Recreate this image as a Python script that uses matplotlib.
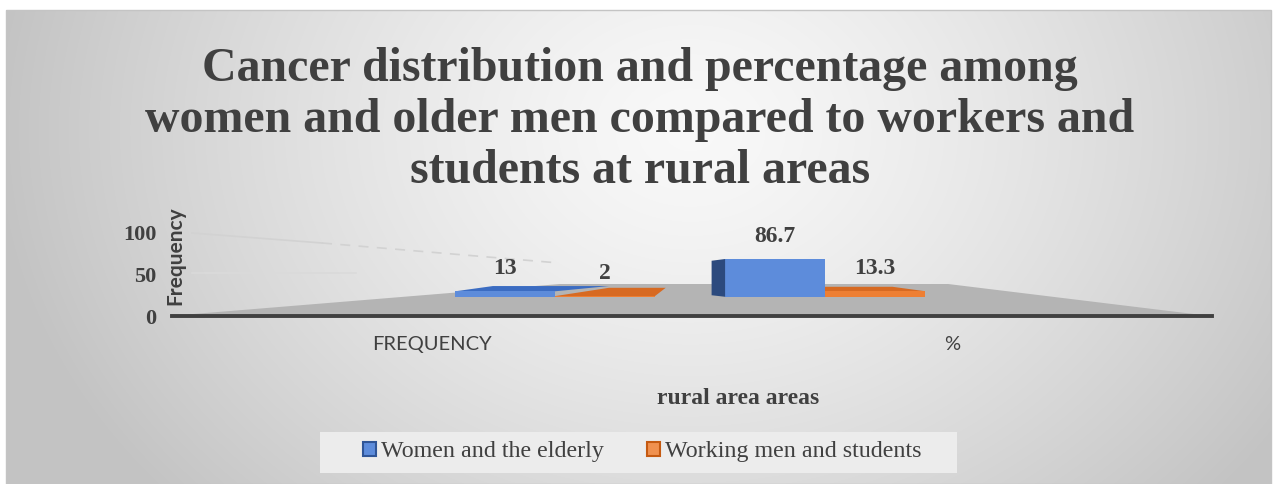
import numpy as np
import matplotlib
matplotlib.use("Agg")
import matplotlib.pyplot as plt
from matplotlib.patches import Polygon, Rectangle, Patch

# ---- data -------------------------------------------------------------
categories = ["FREQUENCY", "%"]
series_names = ["Women and the elderly", "Working men and students"]
women_elderly = [13, 86.7]
working_students = [2, 13.3]
y_ticks = [0, 50, 100]

title = ("Cancer distribution and percentage among\n"
         "women and older men compared to workers and\n"
         "students at rural areas")
x_title = "rural area areas"
y_title = "Frequency"

# ---- style ------------------------------------------------------------
SERIF = "Liberation Serif"
SANS = "Lato"
TXT = "#404040"
BLUE, BLUE_TOP, BLUE_SIDE, BLUE_EDGE = "#5d8cdb", "#3b6cc2", "#2c4a7e", "#2f5597"
ORANGE, ORANGE_TOP, ORANGE_EDGE = "#ee7f33", "#d76a22", "#c55a11"

W, H = 1273, 484
fig = plt.figure(figsize=(W / 100, H / 100), dpi=100, facecolor="white")


def fbox(x0, y0, x1, y1):
    """pixel box (top-left origin) -> figure rectangle"""
    return [x0 / W, 1 - y1 / H, (x1 - x0) / W, (y1 - y0) / H]


# ---- background: soft radial gradient, floor, back-wall gridlines ------
bg = fig.add_axes([0, 0, 1, 1], zorder=0)
bg.axis("off")
gx0, gx1, gy0, gy1 = 6, 1271, 10, 484
yy, xx = np.mgrid[gy0:gy1, gx0:gx1]
r = np.sqrt(((xx - 690) / 700.0) ** 2 + ((yy - 130) / 560.0) ** 2)
r = np.clip(r, 0, 1)
val = 0.975 - (0.975 - 0.765) * r ** 1.35
bg.imshow(np.dstack([val] * 3), extent=(gx0, gx1, gy1, gy0),
          aspect="auto", interpolation="bilinear")
bg.add_patch(Rectangle((gx0, gy0), gx1 - gx0, gy1 - gy0, fill=False,
                       edgecolor="#c4c4c4", lw=1))
bg.add_patch(Polygon([(169, 316), (560, 284), (948, 284), (1210, 316)],
                     closed=True, facecolor="#b4b4b4", edgecolor="none"))
bg.plot([192, 322], [233, 243], color="#d2d2d2", lw=1.2)
bg.plot([322, 559], [243, 263], color="#d2d2d2", lw=1.2, ls=(0, (6, 5)))
bg.plot([192, 356], [273, 273], color="#dadada", lw=1.2)
bg.add_patch(Rectangle((320, 432), 637, 41, facecolor="#ececec",
                       edgecolor="none"))
bg.set_xlim(0, W)
bg.set_ylim(H, 0)

# ---- value axis with category ticks -----------------------------------
ax = fig.add_axes(fbox(172, 233, 1212, 316), zorder=2)
ax.patch.set_alpha(0)
ax.set_xlim(-0.5, len(categories) - 0.5)
ax.set_ylim(0, 100)
ax.set_yticks(y_ticks)
ax.set_yticklabels([str(t) for t in y_ticks], fontfamily=SERIF,
                   fontweight="bold", fontsize=16, color=TXT)
ax.set_xticks(np.arange(len(categories)))
ax.set_xticklabels(categories, fontfamily=SANS, fontsize=14.5, color=TXT)
ax.tick_params(axis="both", length=0)
ax.tick_params(axis="y", pad=11)
ax.tick_params(axis="x", pad=14.5)
for side in ("top", "right", "left"):
    ax.spines[side].set_visible(False)
ax.spines["bottom"].set_color(TXT)
ax.spines["bottom"].set_linewidth(2.8)
ax.set_ylabel(y_title, fontfamily=SANS, fontweight="bold", fontsize=15,
              color=TXT)
ax.yaxis.set_label_coords(13 / 1040, (316 - 256) / 83)
ax.set_xlabel(x_title, fontfamily=SERIF, fontweight="bold", fontsize=17,
              color=TXT)
ax.xaxis.set_label_coords((738 - 172) / 1040, -(398 - 316) / 83)
ax.xaxis.label.set_verticalalignment("center")

# ---- bars standing on the floor ---------------------------------------
bax = fig.add_axes(fbox(420, 233, 960, 297), zorder=3)
bax.axis("off")
bax.patch.set_alpha(0)
bax.set_xlim(-0.5, len(categories) - 0.5)
bax.set_ylim(0, 146)

x = np.arange(len(categories))
w = 0.37
b1 = bax.bar(x - w / 2, women_elderly, w, color=BLUE, zorder=3,
             label=series_names[0])
b2 = bax.bar(x + w / 2, working_students, w, color=ORANGE, zorder=2,
             label=series_names[1])

# pseudo-3D faces: tops recede towards the centre, the tall bar shows its side
for i, (rb, ro) in enumerate(zip(b1, b2)):
    for rect, col, kind in ((rb, BLUE_TOP, "b"), (ro, ORANGE_TOP, "o")):
        x0 = rect.get_x()
        x1 = x0 + rect.get_width()
        h = rect.get_height()
        if i == 0:
            dl, dr, dz = (0.14, 0.2, 12) if kind == "b" else (0.2, 0.04, 19)
            quad = [(x0, h), (x1, h), (x1 + dr, h + dz), (x0 + dl, h + dz)]
            bax.add_patch(Polygon(quad, closed=True, facecolor=col,
                                  edgecolor="none", zorder=rect.zorder - 0.5))
        elif kind == "b":
            side = [(x0, 0.5), (x0, h), (x0 - 0.05, h - 4), (x0 - 0.05, 4)]
            bax.add_patch(Polygon(side, closed=True, facecolor=BLUE_SIDE,
                                  edgecolor="none", zorder=rect.zorder))
        else:
            quad = [(x0, h), (x1, h), (x1 - 0.12, h + 10), (x0 - 0.1, h + 10)]
            bax.add_patch(Polygon(quad, closed=True, facecolor=col,
                                  edgecolor="none", zorder=1))

for cont in (b1, b2):
    labels = bax.bar_label(cont, fmt="%g", padding=8.5, fontfamily=SERIF,
                           fontweight="bold", fontsize=17, color=TXT)
    for t in labels:
        t.set_zorder(6)

# ---- title and legend -------------------------------------------------
fig.text(640 / W, 1 - 183 / H, title, ha="center", va="baseline",
         multialignment="center", fontfamily=SERIF, fontweight="bold",
         fontsize=34.5, color=TXT, linespacing=1.2)

handles = [Patch(facecolor=BLUE, edgecolor=BLUE_EDGE, lw=1.5),
           Patch(facecolor="#f0914f", edgecolor=ORANGE_EDGE, lw=1.5)]
fig.legend(handles, series_names, loc="center",
           bbox_to_anchor=(642 / W, 1 - 452 / H), ncol=2, frameon=False,
           prop={"family": SERIF, "size": 17.3}, labelcolor=TXT,
           handlelength=0.55, handleheight=0.55, handletextpad=0.2,
           columnspacing=1.8)

fig.savefig("out.png", dpi=100, facecolor="white")
